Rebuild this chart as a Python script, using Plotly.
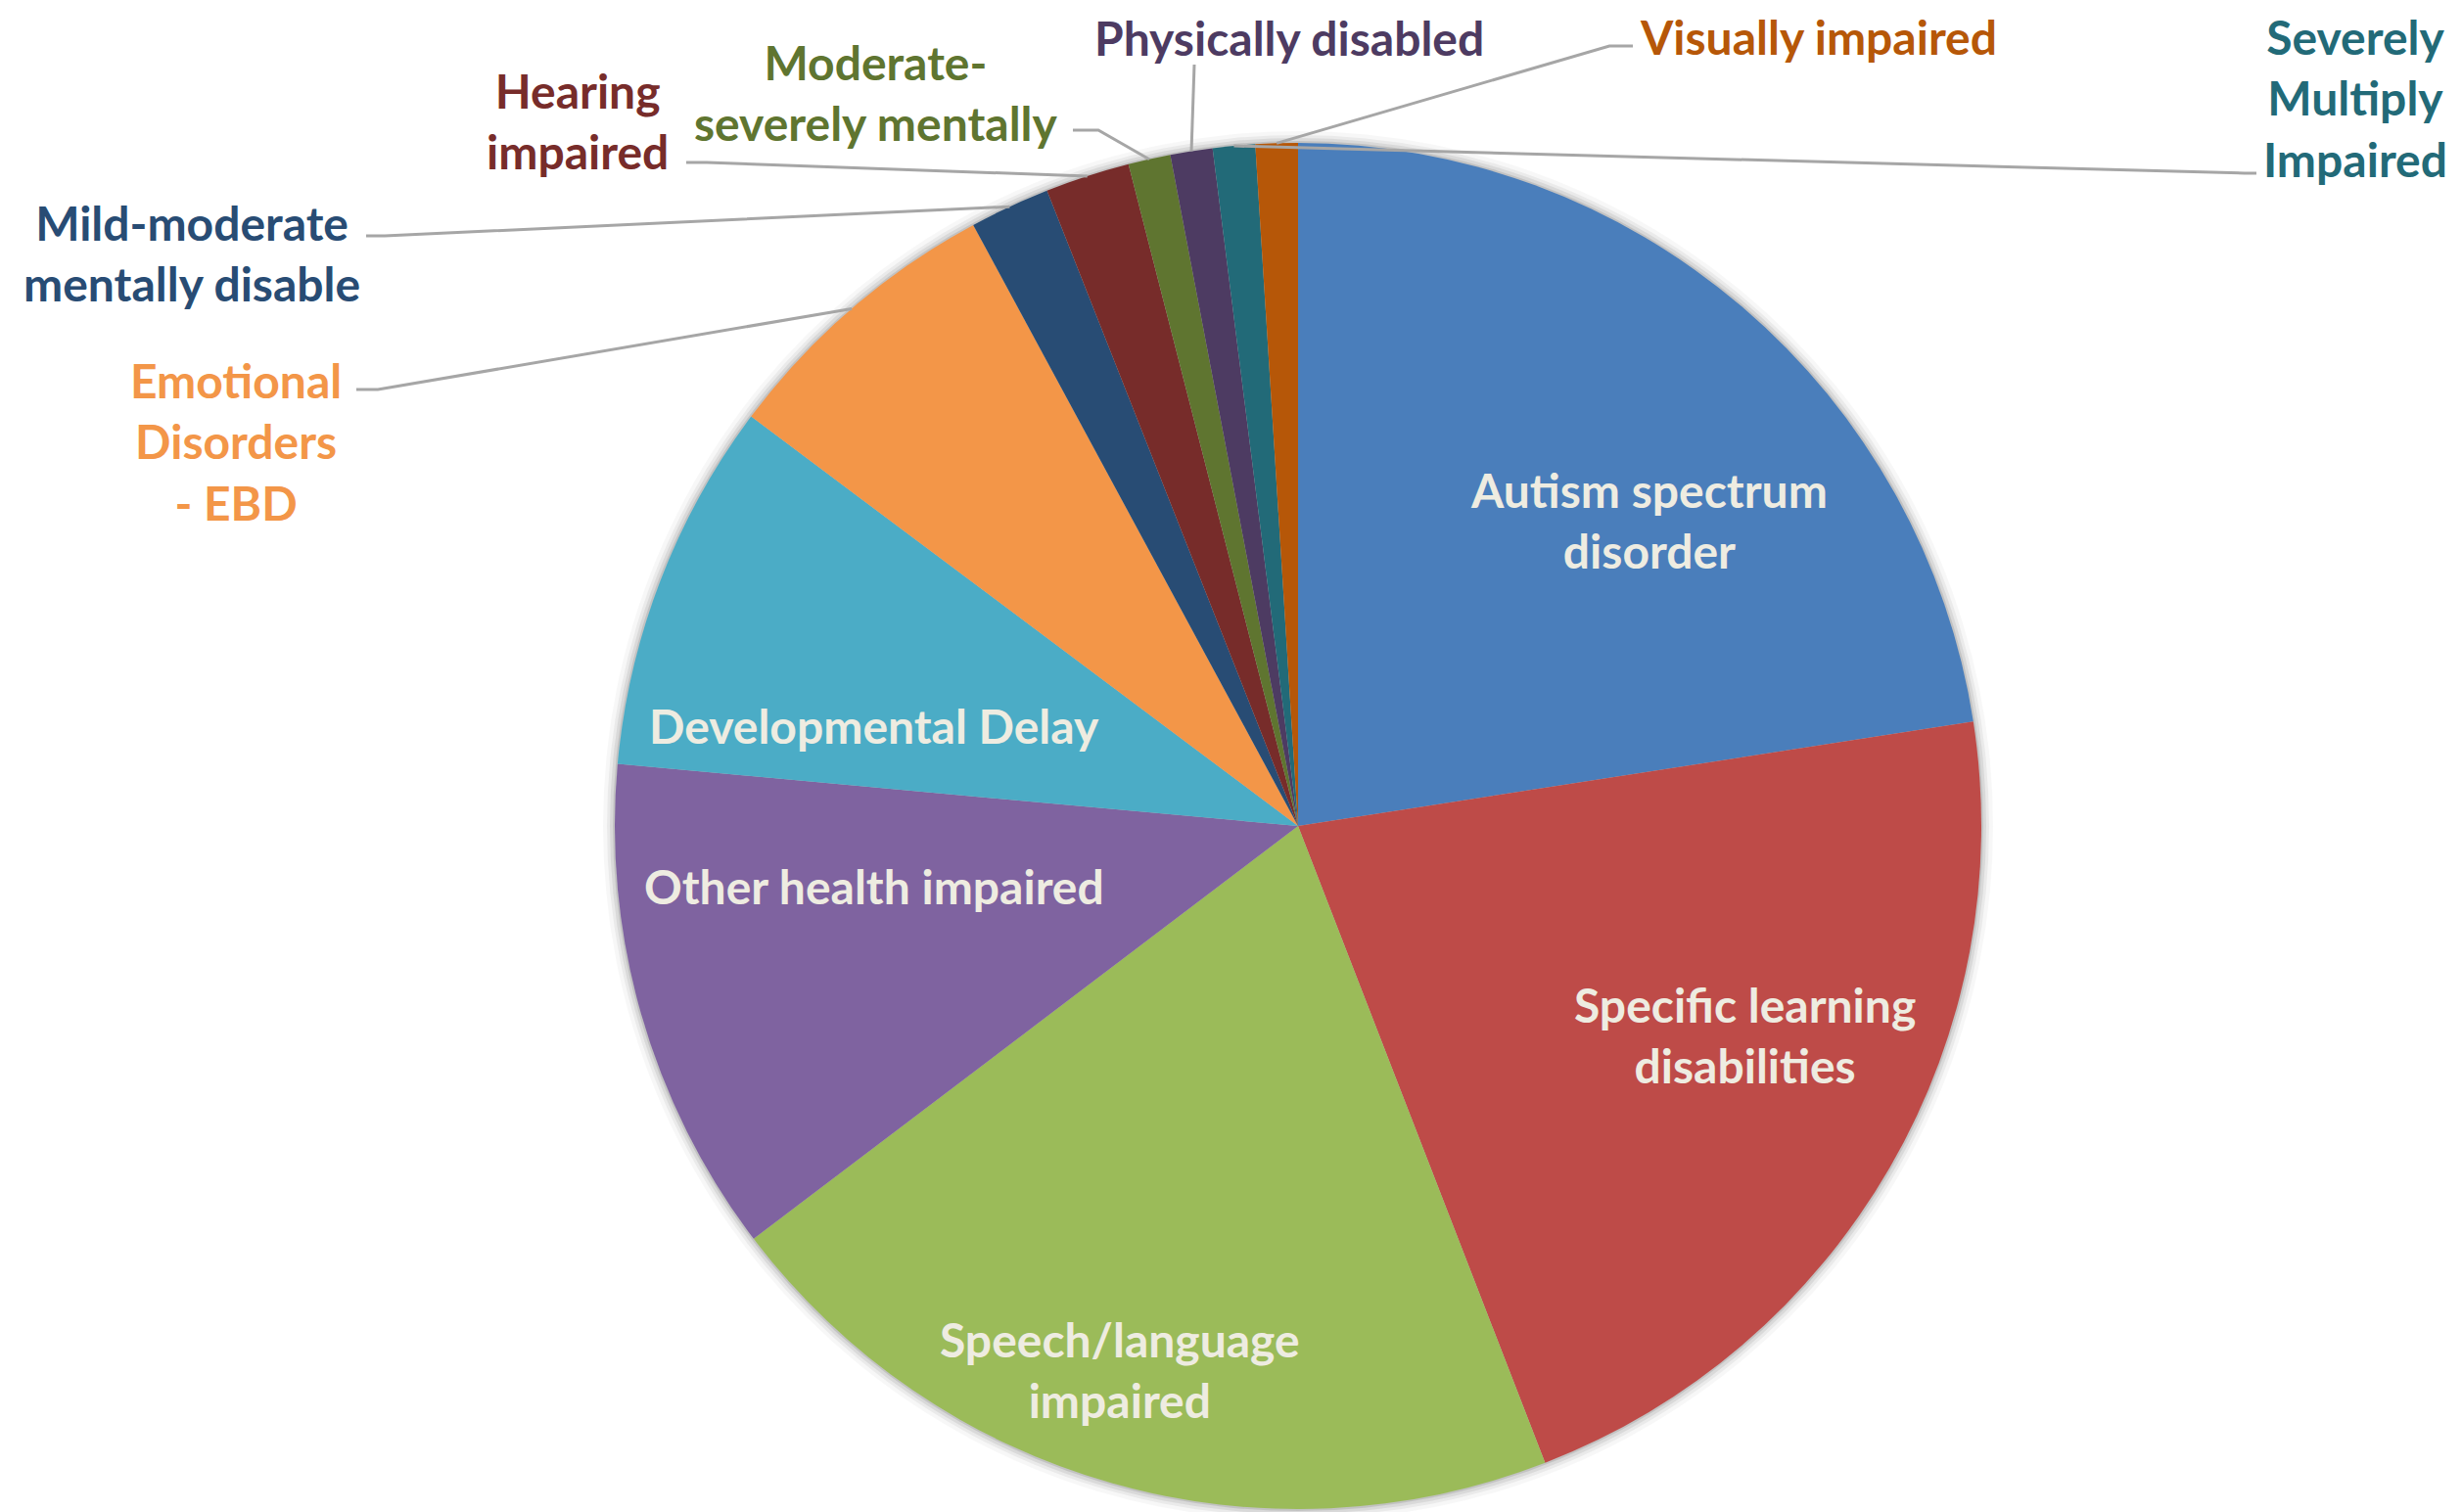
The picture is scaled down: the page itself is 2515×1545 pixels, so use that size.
import numpy as np
import plotly.graph_objects as go

# slices, clockwise from 12 o'clock
categories = [
    "Autism spectrum disorder", "Specific learning disabilities",
    "Speech/language impaired", "Other health impaired",
    "Developmental Delay", "Emotional Disorders - EBD",
    "Mild-moderate mentally disable", "Hearing impaired",
    "Moderate-severely mentally", "Physically disabled",
    "Severely Multiply Impaired", "Visually impaired",
]
shares = [22.6, 21.6, 20.6, 11.8, 8.8, 6.9, 1.9, 2.0, 1.0, 1.0, 1.0, 1.0]
label_text = [
    "Autism spectrum<br>disorder", "Specific learning<br>disabilities",
    "Speech/language<br>impaired", "Other health impaired",
    "Developmental Delay", "Emotional<br>Disorders<br>- EBD",
    "Mild-moderate<br>mentally disable", "Hearing<br>impaired",
    "Moderate-<br>severely mentally", "Physically disabled",
    "Severely<br>Multiply<br>Impaired", "Visually impaired",
]
colors = ["#4A7EBB", "#BE4B48", "#9BBB59", "#7F63A0", "#4BACC6", "#F39648",
          "#284C74", "#772C2A", "#5F7530", "#4D3B62", "#226A78", "#B65708"]

W, H = 2515, 1545
OFF = 8  # page body margin
CX, CY, R = 1326, 844, 698
FONT = "Lato"


def px(x, y):
  return (x - OFF) / W, 1 - (y - OFF) / H


# label layout in pixels: (x, y, inside?)
label_pos = [
    (1684, 531, True), (1782, 1057, True), (1144, 1399, True),
    (893, 905, True), (893, 741, True),
    (241, 451, False), (196, 259, False), (590, 123, False),
    (895, 94, False), (1317, 39, False), (2406, 100, False), (1857, 38, False),
]
# leader line bends (label end -> elbow), edge point added from the data
leader_bends = {
    5: [(364, 398), (386, 398)],
    6: [(374, 241), (393, 241)],
    7: [(701, 166), (722, 166)],
    8: [(1096, 133), (1122, 133)],
    9: [(1220, 66)],
    10: [(2305, 177), (2293, 177)],
    11: [(1668, 47), (1644, 47)],
}

vals = np.array(shares)
mid_deg = (np.cumsum(vals) - vals / 2) / vals.sum() * 360

x0, y1 = px(CX - R, CY - R)
x1, y0 = px(CX + R, CY + R)
fig = go.Figure()
fig.add_trace(go.Pie(
    labels=categories, values=shares, sort=False, direction="clockwise",
    rotation=0, textinfo="none", hoverinfo="label+value",
    marker=dict(colors=colors, line=dict(width=0)),
    domain=dict(x=[x0, x1], y=[y0, y1]),
    showlegend=False,
))

shapes = []
# soft shadow around the pie
for grow, op in [(12, 0.03), (8, 0.05), (5, 0.07), (2, 0.10)]:
  sx0, sy0 = px(CX - R - grow, CY + R + grow)
  sx1, sy1 = px(CX + R + grow, CY - R - grow)
  shapes.append(dict(type="circle", xref="paper", yref="paper",
                     x0=sx0, y0=sy0, x1=sx1, y1=sy1, layer="below",
                     fillcolor="black", opacity=op, line=dict(width=0)))

for i, pts in leader_bends.items():
  a = np.radians(mid_deg[i])
  edge = (CX + R * np.sin(a), CY - R * np.cos(a))
  path = ""
  for k, (x, y) in enumerate(list(pts) + [edge]):
    xp, yp = px(x, y)
    path += ("M" if k == 0 else " L") + f"{xp:.5f},{yp:.5f}"
  shapes.append(dict(type="path", xref="paper", yref="paper", path=path,
                     line=dict(color="#A6A6A6", width=3)))

annotations = []
for i, (x, y, inside) in enumerate(label_pos):
  xp, yp = px(x, y)
  annotations.append(dict(
      x=xp, y=yp, xref="paper", yref="paper", text=label_text[i],
      showarrow=False, xanchor="center", yanchor="middle", align="center",
      borderpad=0,
      font=dict(family=FONT, size=48, weight="bold",
                color="#EEECE1" if inside else colors[i]),
  ))

fig.update_layout(
    width=W, height=H, margin=dict(l=0, r=0, t=0, b=0),
    paper_bgcolor="white", plot_bgcolor="white",
    shapes=shapes, annotations=annotations,
)
fig.write_html("out.html")
